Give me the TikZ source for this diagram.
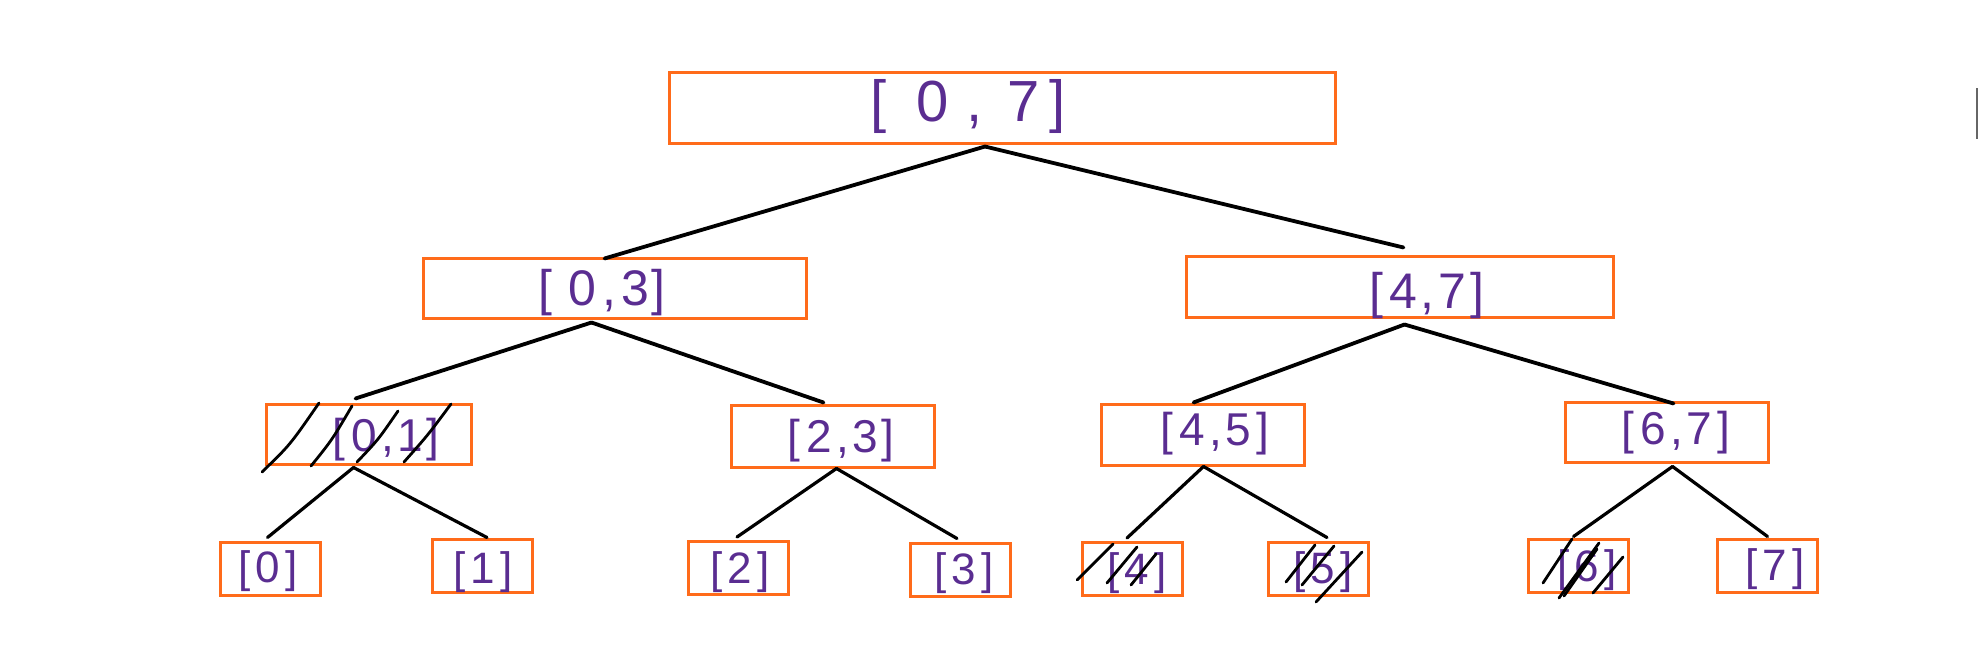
\documentclass[tikz,border=0pt]{standalone}
\usepackage{fontspec}
\setmainfont{Liberation Sans}
\definecolor{seg}{HTML}{FF6B1A}
\definecolor{ink}{HTML}{5A2D91}
\newcommand\gp[1]{\hspace{#1pt}}
\tikzset{
  box/.style={draw=seg, line width=3pt, inner sep=0pt},
  bigbox/.style={box, minimum width=#1, minimum height=61},
  leafbox/.style={box, minimum width=100, minimum height=53},
  lbl/.style={text=ink, inner sep=0pt, anchor=center},
  edge/.style={line width=3.8pt, line cap=round},
  thinedge/.style={line width=3.2pt, line cap=round},
  strike/.style={line width=2.8pt, line cap=round},
}
\begin{document}
\begin{tikzpicture}[x=1pt,y=-1pt]
\useasboundingbox (0,0) rectangle (1980,648);
% boxes
\node[box, minimum width=666, minimum height=71] (r) at (1002,107.5) {};
\node[bigbox=383, minimum height=60] (a) at (614.5,288) {};
\node[bigbox=427] (b) at (1399.5,286.5) {};
\node[bigbox=205, minimum height=60] (c) at (368.5,434) {};
\node[bigbox=203, minimum height=62] (d) at (832.5,436) {};
\node[bigbox=203] (e) at (1202.5,434.5) {};
\node[bigbox=203, minimum height=60] (f) at (1666.5,432) {};
\node[leafbox] (l0) at (270.5,568.5) {};
\node[leafbox] (l1) at (482,565.5) {};
\node[leafbox] (l2) at (738,568) {};
\node[leafbox] (l3) at (960,569.5) {};
\node[leafbox] (l4) at (1132,569) {};
\node[leafbox] (l5) at (1318,568.5) {};
\node[leafbox] (l6) at (1578.5,565.5) {};
\node[leafbox] (l7) at (1767.5,565.5) {};
% labels
\node[lbl, font=\fontsize{58}{58}\selectfont] (tr) at (968,107) {[\gp{30}0\gp{18},\gp{24}7\gp{10}]};
\node[lbl, font=\fontsize{50}{50}\selectfont] (ta) at (602,293) {[\gp{16}0\gp{6},\gp{6}3\gp{2}]};
\node[lbl, font=\fontsize{50}{50}\selectfont] (tb) at (1427,296) {[\gp{6}4\gp{3},\gp{5}7\gp{4}]};
\node[lbl, font=\fontsize{46}{46}\selectfont] (tc) at (386,440) {[\gp{6}0\gp{4},\gp{4}1\gp{3}]};
\node[lbl, font=\fontsize{46}{46}\selectfont] (td) at (841,441) {[\gp{6}2\gp{4},\gp{4}3\gp{3}]};
\node[lbl, font=\fontsize{46}{46}\selectfont] (te) at (1215,434) {[\gp{6}4\gp{4},\gp{4}5\gp{5}]};
\node[lbl, font=\fontsize{46}{46}\selectfont] (tf) at (1676,433) {[\gp{6}6\gp{4},\gp{4}7\gp{5}]};
\node[lbl, font=\fontsize{44}{44}\selectfont] (t0) at (268,571) {[\gp{5}0\gp{5}]};
\node[lbl, font=\fontsize{44}{44}\selectfont] (t1) at (483,572) {[\gp{5}1\gp{5}]};
\node[lbl, font=\fontsize{44}{44}\selectfont] (t2) at (740,572) {[\gp{5}2\gp{5}]};
\node[lbl, font=\fontsize{44}{44}\selectfont] (t3) at (964,573) {[\gp{5}3\gp{5}]};
\node[lbl, font=\fontsize{44}{44}\selectfont] (t4) at (1137,573) {[\gp{5}4\gp{5}]};
\node[lbl, font=\fontsize{44}{44}\selectfont] (t5) at (1323,572) {[\gp{5}5\gp{5}]};
\node[lbl, font=\fontsize{44}{44}\selectfont] (t6) at (1587,570) {[\gp{5}6\gp{5}]};
\node[lbl, font=\fontsize{44}{44}\selectfont] (t7) at (1775,569) {[\gp{5}7\gp{5}]};
% connectors
\draw[edge] ([xshift=-17pt,yshift=-2pt]r.south) -- ([xshift=-10pt,yshift=-2pt]a.north);
\draw[edge] ([xshift=-17pt,yshift=-2pt]r.south) -- ([xshift=4pt,yshift=7pt]b.north);
\draw[edge] ([xshift=-23pt,yshift=-3pt]a.south) -- ([xshift=-13pt,yshift=4pt]c.north);
\draw[edge] ([xshift=-23pt,yshift=-3pt]a.south) -- ([xshift=-9pt,yshift=1pt]d.north);
\draw[edge] ([xshift=5pt,yshift=-6pt]b.south) -- ([xshift=-9pt,yshift=0pt]e.north);
\draw[edge] ([xshift=5pt,yshift=-6pt]b.south) -- ([xshift=7pt,yshift=-3pt]f.north);
\draw[thinedge] ([xshift=-15pt,yshift=-2pt]c.south) -- ([xshift=-3pt,yshift=3pt]l0.north);
\draw[thinedge] ([xshift=-15pt,yshift=-2pt]c.south) -- ([xshift=5pt]l1.north);
\draw[thinedge] ([xshift=4pt]d.south) -- ([xshift=-1pt,yshift=3pt]l2.north);
\draw[thinedge] ([xshift=4pt]d.south) -- ([xshift=-3pt,yshift=3pt]l3.north);
\draw[thinedge] ([xshift=1pt]e.south) -- ([xshift=-5pt,yshift=3pt]l4.north);
\draw[thinedge] ([xshift=1pt]e.south) -- ([xshift=9pt,yshift=3pt]l5.north);
\draw[thinedge] ([xshift=6pt,yshift=-3pt]f.south) -- ([xshift=-5pt,yshift=1pt]l6.north);
\draw[thinedge] ([xshift=6pt,yshift=-3pt]f.south) -- ([yshift=1pt]l7.north);
% strike-throughs
\draw[strike] (262,472) .. controls (290,445) .. (319,403);
\draw[strike] (311,466) .. controls (332,440) .. (352,406);
\draw[strike] (357,462) .. controls (378,440) .. (398,411);
\draw[strike] (404,462) .. controls (428,435) .. (451,404);
\draw[strike] (1077,580) -- (1113,544);
\draw[strike] (1107,583) -- (1137,547);
\draw[strike] (1131,585) -- (1156,554);
\draw[strike] (1286,582) -- (1315,545);
\draw[strike] (1302,585) -- (1334,546);
\draw[strike] (1316,602) -- (1362,552);
\draw[strike] (1543,583) -- (1572,539);
\draw[strike] (1559,598) -- (1599,543);
\draw[strike] (1564,596) -- (1597,549);
\draw[strike] (1593,593) -- (1623,557);
% edge mark at right border
\draw[line width=1.5pt, black!60] (1977,88) -- (1977,139);
\end{tikzpicture}
\end{document}
